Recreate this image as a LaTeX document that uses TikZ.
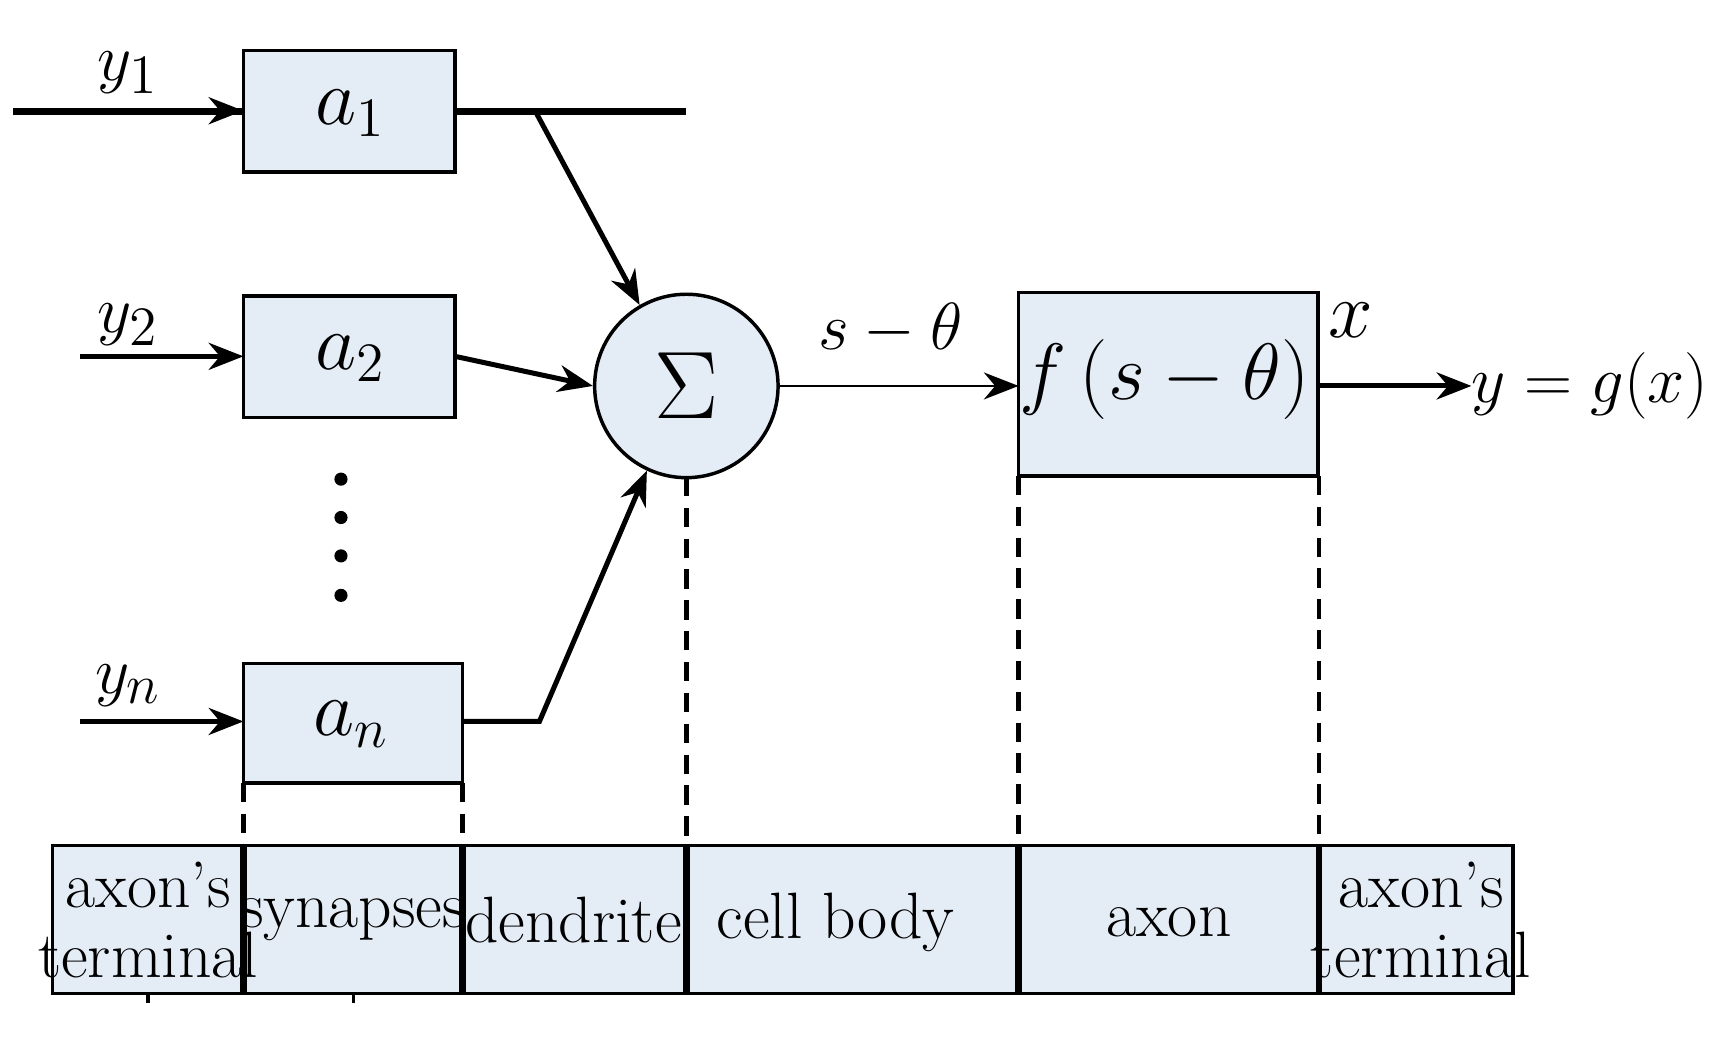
\documentclass[tikz,border=0pt]{standalone}
\usetikzlibrary{arrows.meta}
\begin{document}
\begin{tikzpicture}[x=0.01cm,y=-0.01cm,
 bx/.style={draw,line width=0.9pt,fill=bl},
 ar/.style={line width=1.3pt,-{Stealth[length=9pt,width=7pt]}},
 ds/.style={line width=1.2pt,dash pattern=on 5pt off 3pt},
 sep/.style={line width=1.8pt},
 lab/.style={font=\fontsize{17}{20}\selectfont},
 ml/.style={font=\fontsize{22}{24}\selectfont}]
\definecolor{bl}{HTML}{E4ECF6}
\useasboundingbox (0,0) rectangle (1566,948);
\node[bx,minimum width=193\pgflinewidth,inner sep=0] (a1) at (318.5,101.5) {};
\draw[bx] (222,46) rectangle (415,157);
\node[ml] (ta1) at (320,103) {$a_1$};
\draw[bx] (222,270) rectangle (415,381);
\node[ml] (ta2) at (320,327) {$a_2$};
\draw[bx] (222,605) rectangle (422,714);
\node[ml] (tan) at (320,661) {$a_n$};
\draw[bx] (48,771) rectangle (1380,906);
\draw[bx] (929,267) rectangle (1202,434);
\node[ml] (tf) at (1062,346) {$f\,(s-\theta)$};
\node[draw,circle,fill=bl,line width=0.9pt,minimum size=166\pgflinewidth,inner sep=0,minimum size=4.4cm*0.38] (S) at (626,352) {\fontsize{30}{32}\selectfont$\Sigma$};
\coordinate (i1) at (73,101); \coordinate (o1) at (222,101);
\coordinate (i2) at (73,325); \coordinate (o2) at (222,325);
\coordinate (i3) at (73,658); \coordinate (o3) at (222,658);
\draw[ar] (i1) -- (o1); \draw[ar] (i2) -- (o2); \draw[ar] (i3) -- (o3);
\node[lab,font=\fontsize{19}{20}\selectfont] (y1) at (117,66) {$y_1$};
\node[lab,font=\fontsize{19}{20}\selectfont] (y2) at (117,296) {$y_2$};
\node[lab,font=\fontsize{19}{20}\selectfont] (yn) at (117,625) {$y_n$};
\draw[ar] (415,101) -- (488,101) -- (S.120);
\draw[ar] (415,325) -- (S.west);
\draw[ar] (422,658) -- (492,658) -- (S.-115);
\draw[line width=0.7pt,-{Stealth[length=9pt,width=7pt]}] (S.east) -- (929,352);
\node[ml,font=\fontsize{19}{20}\selectfont] (st) at (812,300) {$s-\theta$};
\draw[ar] (1202,352) -- (1342,352);
\node[ml] (xl) at (1232,292) {$x$};
\node[ml,font=\fontsize{19}{20}\selectfont] (yg) at (1450,352) {$y=g(x)$};
\foreach \yy in {437,472,507,543} \fill (311,\yy) circle (6);
\foreach \xx/\yy in {222/714,422/714,626/435,929/434,1203/434} \draw[ds] (\xx,\yy) -- (\xx,771);
\foreach \xx in {222,422,626,929,1203} \draw[sep] (\xx,771) -- (\xx,906);
\draw[line width=0.8pt] (135,906) -- (135,915) (322,906) -- (322,915);
\node[lab,align=center] (t1) at (135,839) {axon's\\[-2pt]terminal};
\node[lab] (t2) at (322,839) {synapses};
\node[lab] (t3) at (523,839) {dendrite};
\node[lab] (t4) at (762,841) {cell body};
\node[lab] (t5) at (1066,841) {axon};
\node[lab,align=center] (t6) at (1296,839) {axon's\\[-2pt]terminal};
\end{tikzpicture}
\end{document}
